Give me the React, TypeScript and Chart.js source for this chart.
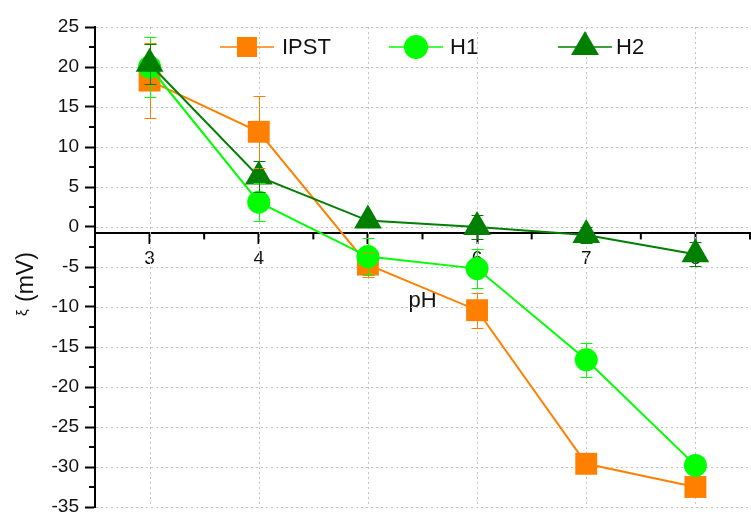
import React, { useEffect, useRef } from 'react';
import { Chart, registerables } from 'chart.js';

Chart.register(...registerables);

// ---- data ----
const phValues = [3, 4, 5, 6, 7, 8];
const seriesLabels = ['IPST', 'H1', 'H2'];
const ipst = [18.3, 11.9, -4.7, -10.4, -29.6, -32.5];
const ipstErr = [4.7, 4.5, 1.5, 2.2, 1.0, 1.0];
const h1 = [20.0, 3.1, -3.7, -5.2, -16.6, -29.8];
const h1Err = [3.7, 2.4, 2.3, 2.4, 2.1, 0.8];
const h2 = [20.4, 6.3, 0.8, 0.0, -1.0, -3.4];
const h2Err = [2.5, 1.9, 0.6, 1.5, 1.0, 1.5];
const xTickValues = [3, 4, 5, 6, 7, 8];
const yTickValues = [25, 20, 15, 10, 5, 0, -5, -10, -15, -20, -25, -30, -35];
const xAxisTitle = 'pH';
const yAxisSymbol = 'ξ';
const yAxisUnit = '(mV)';

// ---- styles ----
const ORANGE = '#FF8000';
const LIME = '#00FF00';
const DARK = '#007F00';
const FONT = "'Liberation Sans', Arial, sans-serif";
const seriesColors = [ORANGE, LIME, DARK];
const seriesStyles = ['rect', 'circle', 'triangle'];
const seriesValues = [ipst, h1, h2];
const seriesErrors = [ipstErr, h1Err, h2Err];
const pointRadii = [15.5, 11.5, 16];

function drawMarker(ctx: CanvasRenderingContext2D, style: string, x: number, y: number, color: string) {
  ctx.save();
  ctx.fillStyle = color;
  ctx.beginPath();
  if (style === 'rect') {
    ctx.rect(x - 10, y - 10, 20, 20);
  } else if (style === 'circle') {
    ctx.arc(x, y, 12, 0, Math.PI * 2);
  } else {
    ctx.moveTo(x, y - 16);
    ctx.lineTo(x + 14, y + 8);
    ctx.lineTo(x - 14, y + 8);
    ctx.closePath();
  }
  ctx.fill();
  ctx.restore();
}

const decorPlugin = {
  id: 'decor',
  beforeDraw(chart: any) {
    const { ctx } = chart;
    ctx.save();
    ctx.fillStyle = '#ffffff';
    ctx.fillRect(0, 0, chart.width, chart.height);
    ctx.restore();
  },
  beforeDatasetsDraw(chart: any) {
    const { ctx, chartArea } = chart;
    const xs = chart.scales.x;
    const ys = chart.scales.y;
    ctx.save();
    ctx.strokeStyle = '#c4c4c4';
    ctx.lineWidth = 1;
    ctx.setLineDash([2, 3]);
    xTickValues.forEach((v) => {
      const px = Math.round(xs.getPixelForValue(v)) + 0.5;
      ctx.beginPath();
      ctx.moveTo(px, chartArea.top);
      ctx.lineTo(px, chartArea.bottom);
      ctx.stroke();
    });
    yTickValues.forEach((v) => {
      const py = Math.round(ys.getPixelForValue(v)) + 0.5;
      ctx.beginPath();
      ctx.moveTo(chartArea.left + 1, py);
      ctx.lineTo(chartArea.right, py);
      ctx.stroke();
    });
    ctx.setLineDash([]);
    // minor ticks
    ctx.strokeStyle = '#000';
    ctx.lineWidth = 2;
    const axisY = ys.getPixelForValue(-0.8);
    for (let i = 0; i < xTickValues.length; i++) {
      const v = xTickValues[i] + 0.5;
      const px = xs.getPixelForValue(v);
      ctx.beginPath();
      ctx.moveTo(px, axisY);
      ctx.lineTo(px, axisY + 6);
      ctx.stroke();
    }
    for (let i = 0; i < yTickValues.length - 1; i++) {
      const v = yTickValues[i] - 2.5;
      const py = Math.round(ys.getPixelForValue(v));
      ctx.beginPath();
      ctx.moveTo(chartArea.left, py);
      ctx.lineTo(chartArea.left - 6, py);
      ctx.stroke();
    }
    ctx.restore();
  },
  afterDatasetsDraw(chart: any) {
    const { ctx } = chart;
    const xs = chart.scales.x;
    const ys = chart.scales.y;
    ctx.save();
    ctx.lineWidth = 1;
    seriesValues.forEach((vals, si) => {
      ctx.strokeStyle = seriesColors[si];
      vals.forEach((v, j) => {
        const px = Math.round(xs.getPixelForValue(phValues[j])) + 0.5;
        const top = Math.round(ys.getPixelForValue(v + seriesErrors[si][j])) + 0.5;
        const bot = Math.round(ys.getPixelForValue(v - seriesErrors[si][j])) + 0.5;
        ctx.beginPath();
        ctx.moveTo(px, top);
        ctx.lineTo(px, bot);
        ctx.moveTo(px - 6, top);
        ctx.lineTo(px + 6, top);
        ctx.moveTo(px - 6, bot);
        ctx.lineTo(px + 6, bot);
        ctx.stroke();
      });
    });
    ctx.restore();
  },
  afterDraw(chart: any) {
    const { ctx } = chart;
    // legend
    const legendY = 47;
    const legendPos = [
      { x0: 220, x1: 274, tx: 282 },
      { x0: 389, x1: 443, tx: 450 },
      { x0: 558, x1: 612, tx: 616 },
    ];
    ctx.save();
    seriesLabels.forEach((lab, i) => {
      const p = legendPos[i];
      ctx.strokeStyle = seriesColors[i];
      ctx.lineWidth = 1.5;
      ctx.beginPath();
      ctx.moveTo(p.x0, legendY);
      ctx.lineTo(p.x1, legendY);
      ctx.stroke();
      drawMarker(ctx, seriesStyles[i], (p.x0 + p.x1) / 2, legendY, seriesColors[i]);
      ctx.fillStyle = '#111';
      ctx.font = `22px ${FONT}`;
      ctx.textAlign = 'left';
      ctx.textBaseline = 'middle';
      ctx.fillText(lab, p.tx, legendY + 1);
    });
    ctx.restore();

    // y axis title (rotated)
    ctx.save();
    ctx.translate(27, 0);
    ctx.rotate(-Math.PI / 2);
    ctx.fillStyle = '#111';
    ctx.textAlign = 'left';
    ctx.textBaseline = 'middle';
    ctx.font = `15px ${FONT}`;
    ctx.fillText(yAxisSymbol, -316, -4);
    ctx.font = `23px ${FONT}`;
    ctx.fillText(yAxisUnit, -302, 0);
    ctx.restore();
  },
};

export default function App() {
  const canvasRef = useRef<HTMLCanvasElement | null>(null);

  useEffect(() => {
    const canvas = canvasRef.current;
    if (!canvas) return;
    const datasets = seriesLabels.map((label, i) => ({
      label,
      data: phValues.map((x, j) => ({ x, y: seriesValues[i][j] })),
      showLine: true,
      borderColor: seriesColors[i],
      backgroundColor: seriesColors[i],
      borderWidth: 2,
      pointStyle: seriesStyles[i],
      pointRadius: pointRadii[i],
      pointBackgroundColor: seriesColors[i],
      pointBorderColor: seriesColors[i],
      pointBorderWidth: 0,
      tension: 0,
      clip: false,
      order: 2 - i,
    }));

    const chart = new Chart(canvas, {
      type: 'scatter',
      data: { datasets },
      plugins: [decorPlugin],
      options: {
        responsive: false,
        animation: false,
        devicePixelRatio: 1,
        layout: { autoPadding: false, padding: { left: 0, top: 27, right: 1, bottom: 11 } },
        plugins: {
          legend: { display: false },
          title: { display: false },
          tooltip: { enabled: false },
        },
        scales: {
          x: {
            type: 'linear',
            position: { y: -0.8 } as any,
            min: 2.5,
            max: 8.5,
            afterFit: (s: any) => {
              s.paddingLeft = 0;
              s.paddingRight = 0;
            },
            ticks: {
              stepSize: 0.5,
              autoSkip: false,
              maxRotation: 0,
              padding: 4,
              color: '#111',
              font: { family: FONT, size: 19 },
              callback: (v: any) => (xTickValues.includes(Number(v)) ? String(v) : ''),
            },
            grid: {
              drawOnChartArea: false,
              drawTicks: true,
              tickLength: 10,
              tickWidth: 2,
              tickColor: (c: any) => (c.tick && xTickValues.includes(c.tick.value) ? '#000' : 'rgba(0,0,0,0)'),
            },
            border: { display: true, color: '#000', width: 2 },
            title: {
              display: true,
              text: xAxisTitle,
              color: '#111',
              font: { family: FONT, size: 22 },
              padding: { top: 14, bottom: 0 },
            },
          },
          y: {
            type: 'linear',
            position: 'left',
            min: -35,
            max: 25,
            afterFit: (s: any) => {
              s.width = 95;
              s.paddingTop = 0;
              s.paddingBottom = 0;
            },
            ticks: {
              stepSize: 2.5,
              autoSkip: false,
              padding: 6,
              color: '#111',
              font: { family: FONT, size: 19 },
              callback: (v: any) => (yTickValues.includes(Number(v)) ? String(v) : ''),
            },
            grid: {
              drawOnChartArea: false,
              drawTicks: true,
              tickLength: 10,
              tickWidth: 2,
              tickColor: (c: any) => (c.tick && yTickValues.includes(c.tick.value) ? '#000' : 'rgba(0,0,0,0)'),
            },
            border: { display: true, color: '#000', width: 2 },
          },
        },
      } as any,
    });
    return () => chart.destroy();
  }, []);

  return (
    <div style={{ position: 'absolute', left: 0, top: 0, width: 751, height: 518, background: '#fff' }}>
      <canvas ref={canvasRef} width={751} height={518} style={{ display: 'block', width: 751, height: 518 }} />
    </div>
  );
}
